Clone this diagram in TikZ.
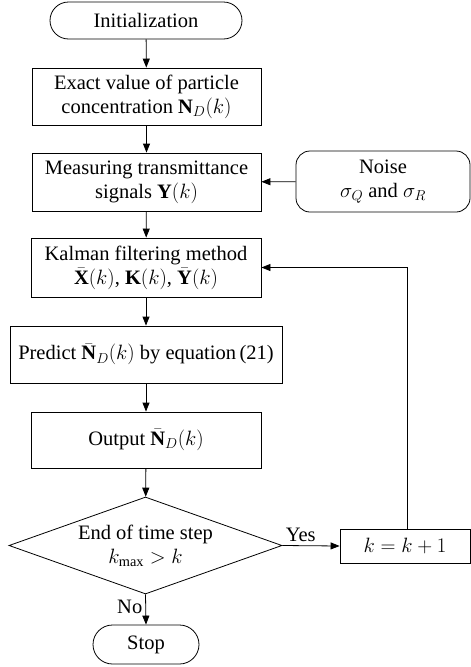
\documentclass[tikz,border=0pt]{standalone}
\usepackage{fontspec}
\setmainfont{Liberation Serif}
\usetikzlibrary{shapes.geometric,shapes.misc,arrows.meta}
\begin{document}
\begin{tikzpicture}[x=1pt,y=-1pt,
  every node/.style={font=\fontsize{20.5}{24}\selectfont, align=center, inner sep=0pt, line width=0.8pt},
  box/.style={draw, rectangle},
  term/.style={draw, rounded rectangle},
  arr/.style={line width=0.8pt, -{Triangle[length=9pt,width=7pt]}}]
\useasboundingbox (0,0) rectangle (471,667);
\node[term, minimum width=192pt, minimum height=37pt] (init) at (146,20.5) {Initialization};
\node[box, minimum width=229pt, minimum height=57pt] (exact) at (146.5,96.5) {Exact value of particle\\concentration $\mathbf{N}_D(k)$};
\node[box, minimum width=229pt, minimum height=58pt] (meas) at (146.5,182) {Measuring transmittance\\signals $\mathbf{Y}(k)$};
\node[draw, rectangle, rounded corners=14pt, minimum width=174pt, minimum height=61pt] (noise) at (383,181.5) {Noise\\$\sigma_Q$ and $\sigma_R$};
\node[box, minimum width=230pt, minimum height=59pt] (kalman) at (146,267.5) {Kalman filtering method\\$\bar{\mathbf{X}}(k)$, $\mathbf{K}(k)$, $\bar{\mathbf{Y}}(k)$};
\node[box, minimum width=272pt, minimum height=57pt] (predict) at (146,354.5) {Predict $\bar{\mathbf{N}}_D(k)$ by equation\,(21)};
\node[box, minimum width=230pt, minimum height=56pt] (output) at (146,440) {Output $\bar{\mathbf{N}}_D(k)$};
\node[draw, diamond, aspect=2.8, minimum width=273pt, minimum height=97pt] (dec) at (145.5,545.5) {End of time step\\$k_{\max} > k$};
\node[box, minimum width=130pt, minimum height=34pt] (kbox) at (405,546) {$k = k + 1$};
\node[term, minimum width=106pt, minimum height=39pt] (stop) at (146,644.5) {Stop};
\draw[arr] (init) -- (exact);
\draw[arr] (exact) -- (meas);
\draw[arr] (noise) -- (meas);
\draw[arr] (meas) -- (kalman);
\draw[arr] (kalman) -- (predict);
\draw[arr] (predict) -- (output);
\draw[arr] (output) -- (dec);
\draw[arr] (dec.east) -- node[above=4pt, pos=0.32] (yes) {Yes} (kbox.west);
\draw[arr] (dec.south) -- node[left=3pt, pos=0.4] (no) {No} (stop.north);
\coordinate (fb) at (407,267.5);
\draw[arr] (kbox.north -| fb) -- (fb) -- (kalman.east);
\end{tikzpicture}
\end{document}
